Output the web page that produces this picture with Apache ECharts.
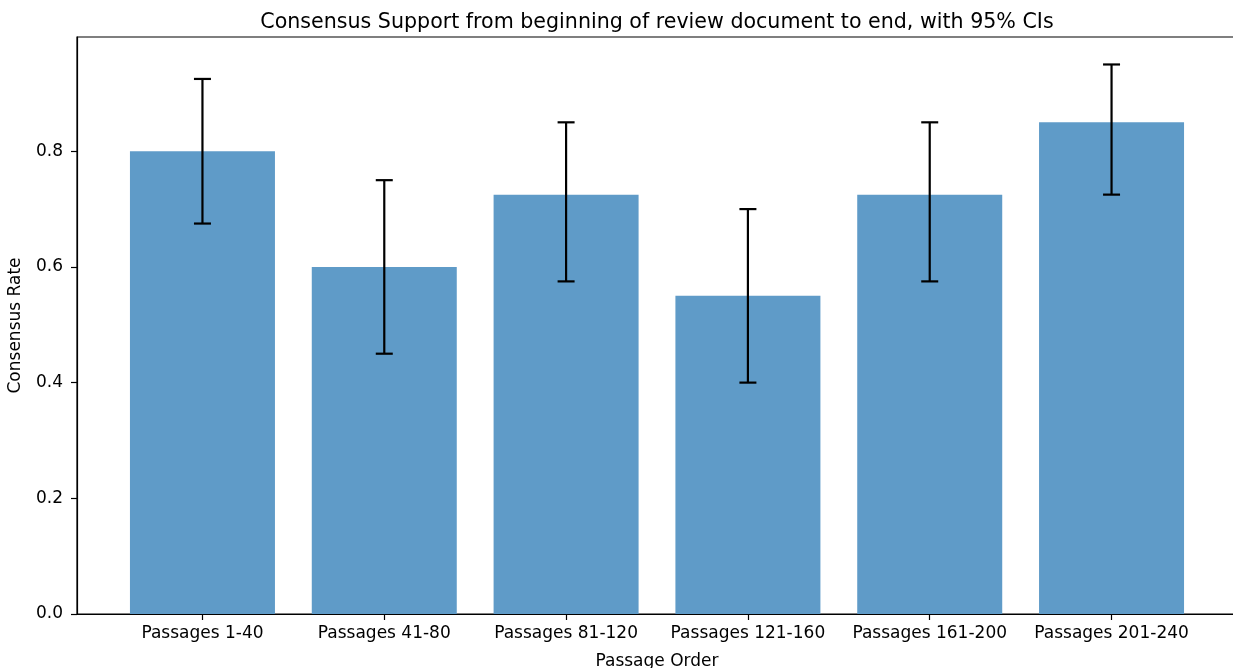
<!DOCTYPE html>
<html>
<head>
<meta charset="utf-8">
<script src="https://cdn.jsdelivr.net/npm/echarts@6/dist/echarts.min.js"></script>
<style>
  html, body { margin: 0; padding: 0; background: #fff; }
  #chart { width: 1233px; height: 668px; }
</style>
</head>
<body>
<div id="chart"></div>
<script>
// Passage blocks and their consensus rates with 95% confidence bounds
const categories = ['Passages 1-40', 'Passages 41-80', 'Passages 81-120',
                    'Passages 121-160', 'Passages 161-200', 'Passages 201-240'];
const rates   = [0.800, 0.600, 0.725, 0.550, 0.725, 0.850];
const ciLower = [0.675, 0.450, 0.575, 0.400, 0.575, 0.725];
const ciUpper = [0.925, 0.750, 0.850, 0.700, 0.850, 0.950];
const yTicks  = [0.0, 0.2, 0.4, 0.6, 0.8];

const FONT = 'DejaVu Sans';
const positions = categories.map((_, i) => i);

const barData = rates.map((v, i) => [i, v]);
const errData = ciLower.map((lo, i) => [i, lo, ciUpper[i]]);

const chart = echarts.init(document.getElementById('chart'), null, { renderer: 'canvas' });

chart.setOption({
  animation: false,
  backgroundColor: '#ffffff',
  title: {
    text: 'Consensus Support from beginning of review document to end, with 95% CIs',
    left: 652,
    top: 7,
    textAlign: 'center',
    textStyle: { fontFamily: FONT, fontSize: 20.6, fontWeight: 'normal', color: '#000' }
  },
  grid: {
    left: 77, top: 37, right: -4, bottom: 54,
    containLabel: false,
    outerBoundsMode: 'none',
    show: true, borderColor: '#000', borderWidth: 1.2, backgroundColor: 'transparent'
  },
  xAxis: {
    type: 'value',
    min: -0.69,
    max: 5.69,
    name: 'Passage Order',
    nameLocation: 'middle',
    nameGap: 39,
    nameTextStyle: { fontFamily: FONT, fontSize: 17, color: '#000' },
    splitLine: { show: false },
    axisLine: { show: true, onZero: false, lineStyle: { color: '#000', width: 1.2 } },
    axisTick: { show: true, length: 6, customValues: positions, lineStyle: { color: '#000', width: 1.2 } },
    axisLabel: {
      customValues: positions,
      margin: 11,
      fontFamily: FONT, fontSize: 17, color: '#000',
      formatter: v => categories[Math.round(v)]
    }
  },
  yAxis: {
    type: 'value',
    min: 0,
    max: 0.9975,
    name: 'Consensus Rate',
    nameLocation: 'middle',
    nameGap: 53,
    nameTextStyle: { fontFamily: FONT, fontSize: 17, color: '#000' },
    splitLine: { show: false },
    axisLine: { show: true, onZero: false, lineStyle: { color: '#000', width: 1.2 } },
    axisTick: { show: true, length: 6, customValues: yTicks, lineStyle: { color: '#000', width: 1.2 } },
    axisLabel: {
      customValues: yTicks,
      margin: 14,
      fontFamily: FONT, fontSize: 17, color: '#000',
      formatter: v => v.toFixed(1)
    }
  },
  series: [
    {
      type: 'bar',
      data: barData,
      barWidth: 145,
      itemStyle: { color: '#5f9bc8' },
      z: 2
    },
    {
      type: 'custom',
      data: errData,
      encode: { x: 0, y: [1, 2] },
      z: 3,
      renderItem: function (params, api) {
        const x = api.value(0);
        const lo = api.coord([x, api.value(1)]);
        const hi = api.coord([x, api.value(2)]);
        const half = 8.5;
        const style = { stroke: '#000', lineWidth: 2.2, fill: null };
        return {
          type: 'group',
          children: [
            { type: 'line', shape: { x1: lo[0], y1: lo[1], x2: hi[0], y2: hi[1] }, style },
            { type: 'line', shape: { x1: hi[0] - half, y1: hi[1], x2: hi[0] + half, y2: hi[1] }, style },
            { type: 'line', shape: { x1: lo[0] - half, y1: lo[1], x2: lo[0] + half, y2: lo[1] }, style }
          ]
        };
      }
    }
  ]
});
</script>
</body>
</html>
